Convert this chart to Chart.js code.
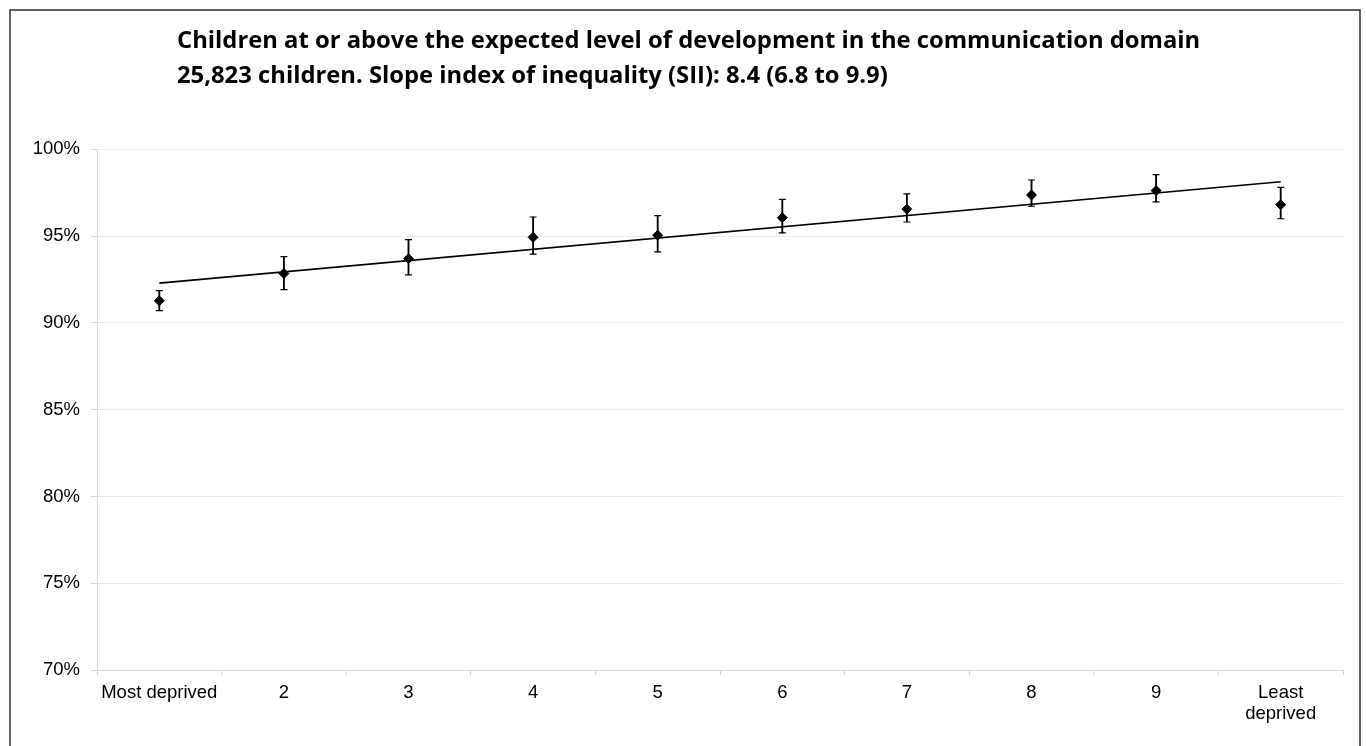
<!DOCTYPE html>
<html>
<head>
<meta charset="utf-8">
<title>Communication domain by deprivation decile</title>
<script src="https://cdn.jsdelivr.net/npm/chart.js@4/dist/chart.umd.min.js"></script>
<style>
  html, body { margin: 0; padding: 0; background: #fff; overflow: hidden; }
  #wrap { position: relative; width: 1366px; height: 746px; }
</style>
</head>
<body>
<div id="wrap"><canvas id="chart"></canvas></div>
<script>
// Deprivation deciles (x axis)
const categories = ['Most deprived', '2', '3', '4', '5', '6', '7', '8', '9', ['Least', 'deprived']];

// % of children at or above the expected level, per decile
const pctExpected = [91.27, 92.84, 93.70, 94.93, 95.05, 96.06, 96.55, 97.37, 97.62, 96.81];

// 95% confidence interval bounds
const ciLower = [90.71, 91.92, 92.76, 93.96, 94.09, 95.18, 95.81, 96.72, 96.97, 96.00];
const ciUpper = [91.86, 93.82, 94.80, 96.10, 96.18, 97.12, 97.43, 98.23, 98.54, 97.81];

// Fitted slope line: value at the most and least deprived deciles
const trendStart = 92.29;
const trendEnd = 98.13;

// Y axis range and step (percent)
const yMin = 70;
const yMax = 100;
const yStep = 5;

const titleLines = [
  'Children at or above the expected level of development in the communication domain',
  '25,823 children. Slope index of inequality (SII): 8.4 (6.8 to 9.9)'
];

const lastIdx = categories.length - 1;
const trendData = categories.map((_, i) => (i === 0 ? trendStart : i === lastIdx ? trendEnd : null));
const ciRanges = ciLower.map((lo, i) => [lo, ciUpper[i]]);

// White background, outer frame and the two-line heading
const framePlugin = {
  id: 'frameAndHeading',
  beforeDraw(chart) {
    const ctx = chart.ctx;
    ctx.save();
    ctx.fillStyle = '#ffffff';
    ctx.fillRect(0, 0, chart.width, chart.height);
    ctx.strokeStyle = '#3a3a3a';
    ctx.lineWidth = 1.6;
    ctx.strokeRect(10, 10, 1350, 780);
    ctx.restore();
  },
  afterDraw(chart) {
    const ctx = chart.ctx;
    ctx.save();
    ctx.fillStyle = '#000000';
    ctx.font = "bold 23.8px 'Open Sans'";
    ctx.textAlign = 'left';
    ctx.textBaseline = 'alphabetic';
    ctx.fillText(titleLines[0], 177, 48);
    ctx.fillText(titleLines[1], 177, 83);
    ctx.restore();
  }
};

const axisFont = { family: "'Liberation Sans', Arial, sans-serif", size: 18.5, lineHeight: 1.1 };

new Chart(document.getElementById('chart'), {
  type: 'bar',
  data: {
    labels: categories,
    datasets: [
      {
        type: 'line',
        label: 'Percent',
        data: pctExpected,
        showLine: false,
        pointStyle: 'rectRot',
        pointRadius: 5,
        pointBackgroundColor: '#000',
        pointBorderColor: '#000',
        pointBorderWidth: 1,
        order: 0
      },
      {
        type: 'line',
        label: 'Upper CI',
        data: ciUpper,
        showLine: false,
        pointStyle: 'line',
        pointRadius: 3.5,
        pointBorderColor: '#000',
        pointBorderWidth: 1.2,
        order: 1
      },
      {
        type: 'line',
        label: 'Lower CI',
        data: ciLower,
        showLine: false,
        pointStyle: 'line',
        pointRadius: 3.5,
        pointBorderColor: '#000',
        pointBorderWidth: 1.2,
        order: 1
      },
      {
        type: 'bar',
        label: 'CI',
        data: ciRanges,
        backgroundColor: '#000',
        borderWidth: 0,
        barThickness: 1.2,
        order: 2
      },
      {
        type: 'line',
        label: 'Trend',
        data: trendData,
        spanGaps: true,
        borderColor: '#000',
        borderWidth: 1.6,
        pointRadius: 0,
        fill: false,
        order: 3
      }
    ]
  },
  options: {
    responsive: true,
    maintainAspectRatio: false,
    animation: false,
    layout: { padding: { top: 149.3, right: 23, bottom: 0, left: 0 } },
    plugins: {
      legend: { display: false },
      title: { display: false },
      tooltip: { enabled: false }
    },
    scales: {
      x: {
        offset: true,
        grid: {
          display: true,
          drawOnChartArea: false,
          drawTicks: true,
          tickLength: 5,
          color: '#d4d4d4',
          offset: true
        },
        border: { color: '#d4d4d4', width: 1 },
        ticks: {
          color: '#000',
          font: axisFont,
          padding: 8,
          maxRotation: 0,
          autoSkip: false
        },
        afterFit(scale) { scale.height = 76; }
      },
      y: {
        min: yMin,
        max: yMax,
        grid: {
          color: '#ebebeb',
          tickColor: '#d4d4d4',
          tickLength: 6
        },
        border: { color: '#d4d4d4', width: 1 },
        ticks: {
          stepSize: yStep,
          color: '#000',
          font: axisFont,
          padding: 11,
          callback: v => v + '%'
        },
        afterFit(scale) { scale.width = 97; }
      }
    }
  },
  plugins: [framePlugin]
});
</script>
</body>
</html>
